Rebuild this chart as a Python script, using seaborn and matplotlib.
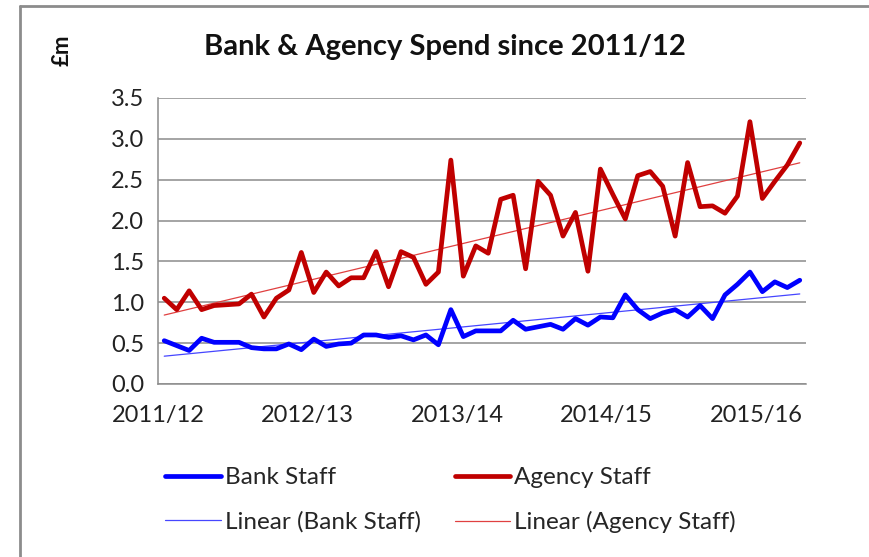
import numpy as np
import pandas as pd
import matplotlib
matplotlib.use("Agg")
import matplotlib.pyplot as plt
from matplotlib.lines import Line2D
import seaborn as sns

# monthly spend (£m), April 2011 to July 2015
bank_staff = [0.53, 0.47, 0.41, 0.56, 0.51, 0.51, 0.51, 0.445, 0.43, 0.43, 0.49, 0.42,
              0.55, 0.46, 0.49, 0.50, 0.60, 0.60, 0.57, 0.59, 0.54, 0.60, 0.48, 0.91,
              0.58, 0.65, 0.65, 0.65, 0.78, 0.67, 0.70, 0.73, 0.67, 0.80, 0.72, 0.82,
              0.81, 1.09, 0.91, 0.80, 0.87, 0.91, 0.82, 0.96, 0.80, 1.09, 1.22, 1.37,
              1.13, 1.25, 1.18, 1.27]
agency_staff = [1.05, 0.91, 1.14, 0.91, 0.96, 0.97, 0.98, 1.10, 0.82, 1.05, 1.15, 1.61,
                1.12, 1.37, 1.20, 1.30, 1.30, 1.62, 1.19, 1.62, 1.55, 1.22, 1.37, 2.74,
                1.32, 1.69, 1.60, 2.26, 2.31, 1.41, 2.48, 2.31, 1.81, 2.10, 1.38, 2.63,
                2.32, 2.02, 2.55, 2.60, 2.42, 1.81, 2.71, 2.17, 2.18, 2.09, 2.30, 3.21,
                2.27, 2.48, 2.68, 2.95]
year_labels = ["2011/12", "2012/13", "2013/14", "2014/15", "2015/16"]
y_ticks = [0.0, 0.5, 1.0, 1.5, 2.0, 2.5, 3.0, 3.5]

df = pd.DataFrame({"month": np.arange(len(bank_staff)),
                   "Bank Staff": bank_staff,
                   "Agency Staff": agency_staff})

# linear trend lines, same as Excel "Linear (...)"
for col in ["Bank Staff", "Agency Staff"]:
    k, b = np.polyfit(df["month"], df[col], 1)
    df["Linear (" + col + ")"] = k * df["month"] + b

sns.set_style("white")
plt.rcParams["font.family"] = ["Lato", "DejaVu Sans"]

BLUE = "#0000FF"
RED = "#C00000"
BLUE_T = "#4646FF"
RED_T = "#E04040"
GRID = "#8C8C8C"

fig = plt.figure(figsize=(8.7, 5.57), dpi=100)
ax = fig.add_axes([158 / 870, 1 - 384 / 557, (806 - 158) / 870, (384 - 98) / 557])

sns.lineplot(data=df, x="month", y="Linear (Bank Staff)", color=BLUE_T, lw=0.9, ax=ax)
sns.lineplot(data=df, x="month", y="Linear (Agency Staff)", color=RED_T, lw=0.9, ax=ax)
sns.lineplot(data=df, x="month", y="Bank Staff", color=BLUE, lw=3.4, ax=ax)
sns.lineplot(data=df, x="month", y="Agency Staff", color=RED, lw=3.4, ax=ax)

n = len(bank_staff)
ax.set_xlim(-0.5, n - 0.5)
ax.set_ylim(0, 3.5)
ax.set_yticks(y_ticks)
ax.set_yticklabels([f"{v:.1f}" for v in y_ticks])
ax.set_xticks([-0.5 + 12 * i for i in range(len(year_labels))])
ax.set_xticklabels(year_labels)
ax.set_xlabel("")
ax.set_ylabel("")
ax.yaxis.grid(True, color=GRID, lw=1.1)
ax.set_axisbelow(True)
for s in ["top", "right"]:
    ax.spines[s].set_visible(False)
for s in ["left", "bottom"]:
    ax.spines[s].set_color(GRID)
    ax.spines[s].set_linewidth(1.1)
ax.tick_params(axis="both", which="major", direction="out", length=6, width=1.1,
               color=GRID, labelsize=17, labelcolor="#222222", pad=4)
ax.tick_params(axis="x", pad=9)

fig.text(445 / 870, 1 - 47 / 557, "Bank & Agency Spend since 2011/12", ha="center", va="center",
         fontsize=21, fontweight="bold", color="#111111")
fig.text(62 / 870, 1 - 50 / 557, "£m", rotation=90, ha="center", va="center",
         fontsize=16, fontweight="bold", color="#111111")

# order so that rows read: Bank / Agency, then the two trend lines
handles = [Line2D([], [], color=BLUE, lw=3.4),
           Line2D([], [], color=BLUE_T, lw=0.9),
           Line2D([], [], color=RED, lw=3.4),
           Line2D([], [], color=RED_T, lw=0.9)]
labels = ["Bank Staff", "Linear (Bank Staff)", "Agency Staff", "Linear (Agency Staff)"]
fig.legend(handles, labels, ncol=2, loc="upper left", bbox_to_anchor=(165 / 870, 1 - 467 / 557),
           frameon=False, fontsize=17.5, handlelength=2.3, handletextpad=0.15,
           columnspacing=1.4, labelspacing=0.95, borderaxespad=0, borderpad=0)

# chart frame (left and top edges visible)
fig.add_artist(Line2D([20 / 870, 20 / 870], [0, 1 - 6 / 557], color="#8C8C8C", lw=2,
                      transform=fig.transFigure))
fig.add_artist(Line2D([20 / 870, 1], [1 - 6 / 557, 1 - 6 / 557], color="#8C8C8C", lw=2,
                      transform=fig.transFigure))

fig.savefig("out.png", dpi=100)
